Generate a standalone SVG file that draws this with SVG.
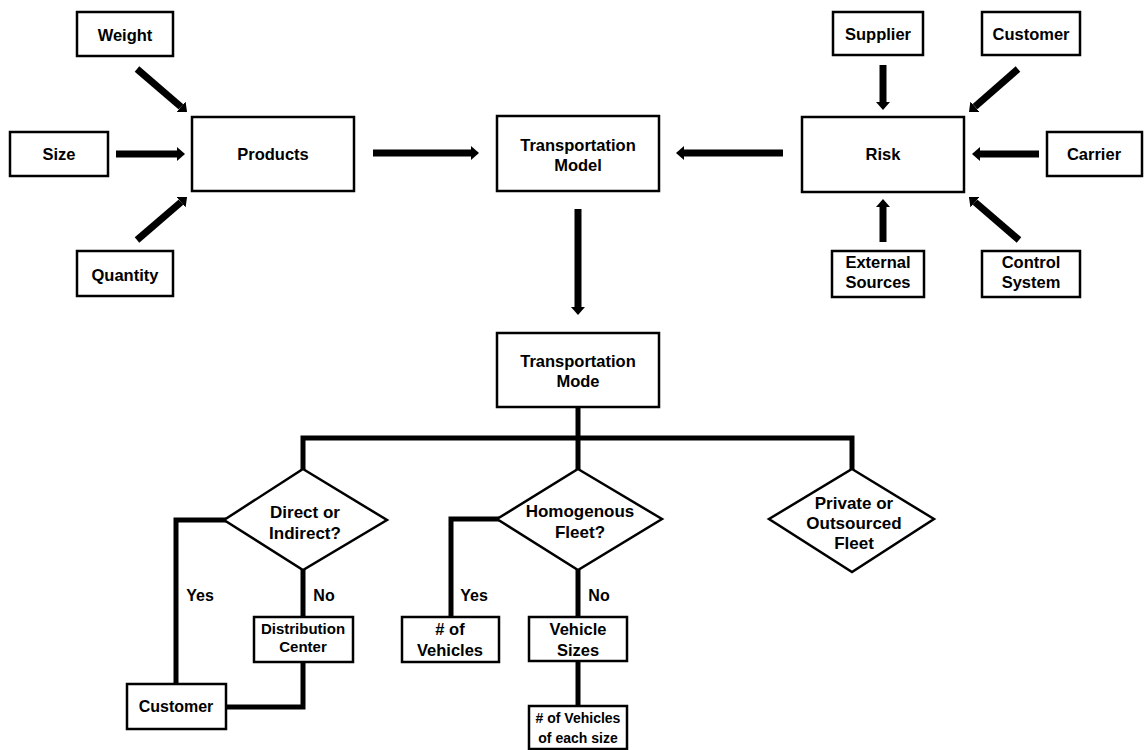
<svg xmlns="http://www.w3.org/2000/svg" width="1144" height="750" viewBox="0 0 1144 750">
<style>
.box{fill:#fff;stroke:#000;stroke-width:2.5}
.dia{fill:#fff;stroke:#000;stroke-width:2.5}
text{font-family:"Liberation Sans",Arial,sans-serif;font-weight:bold;font-size:16.5px;fill:#000;text-anchor:middle}
.d17{font-size:17px}
.s16{font-size:16px}
.s15{font-size:15px}
.s14{font-size:14px}
.arr{stroke:#000;stroke-width:7;fill:none;marker-end:url(#ah)}
.ln{stroke:#000;stroke-width:5;fill:none;stroke-linejoin:miter;stroke-linecap:square}
</style>
<defs>
<marker id="ah" viewBox="0 0 8 14" markerWidth="8" markerHeight="14" markerUnits="userSpaceOnUse" refX="0" refY="7" orient="auto">
<path d="M0,0 L8,7 L0,14 z" fill="#000"/>
</marker>
</defs>
<rect width="1144" height="750" fill="#fff"/>
<g id="connectors">
<line class="arr" x1="137" y1="69" x2="181" y2="106.8"/>
<line class="arr" x1="116" y1="154" x2="177" y2="154"/>
<line class="arr" x1="137" y1="240" x2="181" y2="202.2"/>
<line class="arr" x1="373" y1="153" x2="471" y2="153"/>
<line class="arr" x1="783" y1="153" x2="684" y2="153"/>
<line class="arr" x1="578" y1="209" x2="578" y2="307"/>
<line class="arr" x1="883" y1="65" x2="883" y2="102"/>
<line class="arr" x1="1018" y1="69" x2="975" y2="106.7"/>
<line class="arr" x1="1039" y1="154" x2="980" y2="154"/>
<line class="arr" x1="883" y1="242" x2="883" y2="207"/>
<line class="arr" x1="1019" y1="240" x2="975" y2="202.2"/>
<path class="ln" d="M578,408 L578,469"/>
<path class="ln" d="M303,469 L303,438 L852,438 L852,469"/>
<path class="ln" d="M224,520 L176,520 L176,684"/>
<path class="ln" d="M303,570 L303,617"/>
<path class="ln" d="M303,662 L303,707 L227,707"/>
<path class="ln" d="M497,519 L451,519 L451,617"/>
<path class="ln" d="M578,570 L578,617"/>
<path class="ln" d="M578,661 L578,706"/>
</g>
<g id="weight"><rect class="box" x="77" y="12" width="96" height="44"/><text x="125" y="41">Weight</text></g>
<g id="size"><rect class="box" x="10" y="132" width="98" height="44"/><text x="59" y="160">Size</text></g>
<g id="quantity"><rect class="box" x="77" y="251" width="96" height="45"/><text x="125" y="281">Quantity</text></g>
<g id="products"><rect class="box" x="192" y="117" width="162" height="74"/><text x="273" y="160">Products</text></g>
<g id="transportation-model"><rect class="box" x="497" y="116" width="162" height="75"/><text x="578" y="151">Transportation</text><text x="578" y="171">Model</text></g>
<g id="risk"><rect class="box" x="802" y="117" width="162" height="75"/><text x="883" y="160">Risk</text></g>
<g id="supplier"><rect class="box" x="833" y="12" width="90" height="43"/><text x="878" y="40">Supplier</text></g>
<g id="customer-risk"><rect class="box" x="982" y="12" width="98" height="43"/><text x="1031" y="40">Customer</text></g>
<g id="carrier"><rect class="box" x="1047" y="132" width="95" height="44"/><text x="1094" y="160">Carrier</text></g>
<g id="external-sources"><rect class="box" x="832" y="251" width="92" height="46"/><text x="878" y="268">External</text><text x="878" y="288">Sources</text></g>
<g id="control-system"><rect class="box" x="982" y="251" width="98" height="46"/><text x="1031" y="268">Control</text><text x="1031" y="288">System</text></g>
<g id="transportation-mode"><rect class="box" x="497" y="333" width="162" height="74"/><text x="578" y="367">Transportation</text><text x="578" y="387">Mode</text></g>
<g id="direct"><polygon class="dia" points="303,469 387,520 303,570 224,520"/><text x="305" y="518" class="d17">Direct or</text><text x="305" y="539" class="d17">Indirect?</text></g>
<g id="homogenous"><polygon class="dia" points="578,469 662,519 578,570 497,519"/><text x="580" y="517" class="d17">Homogenous</text><text x="580" y="538" class="d17">Fleet?</text></g>
<g id="private"><polygon class="dia" points="852,469 934,519 852,572 769,519"/><text x="854" y="509" class="d17">Private or</text><text x="854" y="529" class="d17">Outsourced</text><text x="854" y="549" class="d17">Fleet</text></g>
<g id="labels"><text x="200" y="601" class="s16">Yes</text><text x="324" y="601" class="s16">No</text><text x="474" y="601" class="s16">Yes</text><text x="599" y="601" class="s16">No</text></g>
<g id="distribution-center"><rect class="box" x="254" y="617" width="99" height="45"/><text x="303" y="634" class="s15">Distribution</text><text x="303" y="652" class="s15">Center</text></g>
<g id="customer"><rect class="box" x="127" y="684" width="99" height="45"/><text x="176" y="712" class="s16">Customer</text></g>
<g id="num-vehicles"><rect class="box" x="402" y="617" width="97" height="45"/><text x="450" y="635">#  of</text><text x="450" y="656">Vehicles</text></g>
<g id="vehicle-sizes"><rect class="box" x="529" y="617" width="98" height="44"/><text x="578" y="635">Vehicle</text><text x="578" y="656">Sizes</text></g>
<g id="num-each-size"><rect class="box" x="529" y="706" width="98" height="43"/><text x="578" y="723" class="s14"># of Vehicles</text><text x="578" y="743" class="s14">of each size</text></g>
</svg>
